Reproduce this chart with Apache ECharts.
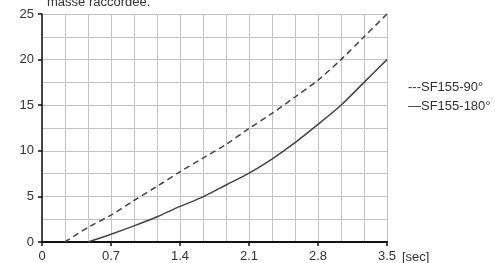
<!DOCTYPE html>
<html><head><meta charset="utf-8">
<script src="https://cdn.jsdelivr.net/npm/echarts@6/dist/echarts.min.js"></script>
<style>html,body{margin:0;padding:0;background:#fff}#c{width:495px;height:263px}</style>
</head><body><div id="c"></div>
<script>
var xValues = [0.233, 0.467, 0.7, 0.933, 1.167, 1.4, 1.633, 1.867, 2.1, 2.333, 2.567, 2.8, 3.033, 3.267, 3.5];
var sf90 = [0, 1.6, 2.95, 4.55, 6.1, 7.7, 9.2, 10.7, 12.45, 14.1, 15.9, 17.75, 20.0, 22.5, 25];
var sf180 = [null, 0, 0.85, 1.77, 2.77, 3.9, 4.95, 6.25, 7.55, 9.1, 10.9, 12.9, 15.0, 17.5, 20];
var xTicks = [0, 0.7, 1.4, 2.1, 2.8, 3.5];
var yTicks = [0, 5, 10, 15, 20, 25];
var names = ['SF155-90°', 'SF155-180°'];
var caption = 'masse raccordee.';
var unit = '[sec]';

function pairs(ys){ var o=[]; for(var i=0;i<xValues.length;i++){ if(ys[i]!==null) o.push([xValues[i], ys[i]]);} return o; }
var font = 'Liberation Sans, Arial, sans-serif';
var chart = echarts.init(document.getElementById('c'), null, {renderer:'canvas'});
chart.setOption({
  animation:false,
  grid:{left:42, right:108, top:14, bottom:17, containLabel:false},
  xAxis:{type:'value', min:0, max:3.5, interval:0.7,
    axisLine:{show:true, lineStyle:{color:'#111', width:2}},
    axisTick:{show:true, length:4, lineStyle:{color:'#111', width:1.5}},
    axisLabel:{color:'#333', fontSize:13, fontFamily:font, margin:8, formatter:function(v){var r=Math.round(v*10)/10; return xTicks.indexOf(r)>=0? String(r):'';}},
    splitLine:{show:true, lineStyle:{color:'#c4c4c4', width:1}},
    minorTick:{show:false, splitNumber:3},
    minorSplitLine:{show:true, lineStyle:{color:'#c4c4c4', width:1}}
  },
  yAxis:{type:'value', min:0, max:25, interval:5,
    axisLine:{show:true, lineStyle:{color:'#111', width:1.5}},
    axisTick:{show:true, length:4, lineStyle:{color:'#111', width:1.5}},
    axisLabel:{color:'#333', fontSize:13, fontFamily:font, margin:8},
    splitLine:{show:true, lineStyle:{color:'#c4c4c4', width:1}},
    minorTick:{show:false, splitNumber:2},
    minorSplitLine:{show:true, lineStyle:{color:'#c4c4c4', width:1}}
  },
  series:[
    {name:names[0], type:'line', smooth:0.3, symbol:'none', data:pairs(sf90),
     lineStyle:{color:'#444', width:1.5, type:[6,4]}, z:3},
    {name:names[1], type:'line', smooth:0.3, symbol:'none', data:pairs(sf180),
     lineStyle:{color:'#444', width:1.5, type:'solid'}, z:3}
  ],
  graphic:[
    {type:'text', left:47, top:-4.5, style:{text:caption, fill:'#333', font:'13px '+font}},
    {type:'text', left:402, top:251, style:{text:unit, fill:'#333', font:'13px '+font}},
    {type:'text', left:408, top:80.5, style:{text:'---'+names[0], fill:'#333', font:'13px '+font}},
    {type:'text', left:408, top:99.5, style:{text:'\u2014'+names[1], fill:'#333', font:'13px '+font}}
  ]
});
</script></body></html>
